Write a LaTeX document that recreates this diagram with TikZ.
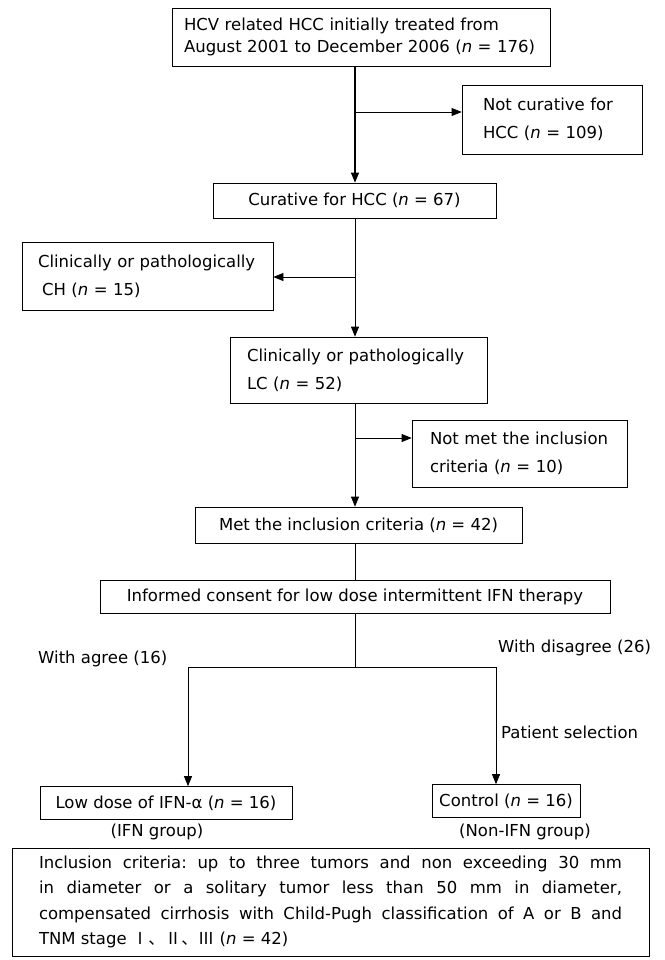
\documentclass[tikz,border=0pt]{standalone}
\usepackage{fontspec}
\setmainfont{DejaVu Sans}
\newfontfamily\cjkfont{Noto Sans CJK SC}
\usetikzlibrary{arrows.meta}
\newcommand{\nn}{\textit{n}}
\frenchspacing
\tikzset{
  box/.style={draw, line width=0.7pt, inner ysep=0pt, inner xsep=0pt, font=\fontsize{16.5}{28}\selectfont},
  lbl/.style={inner sep=0pt, font=\fontsize{16.5}{28}\selectfont},
  arr/.style={-{Triangle[length=10pt,width=8pt]}, line width=0.7pt},
  ln/.style={line width=0.7pt}
}
\begin{document}
\begin{tikzpicture}[x=1pt,y=-1pt]
\useasboundingbox (0,0) rectangle (664,960);
% boxes
\node[box, inner xsep=12pt, text width=354pt, minimum height=58pt, align=left,
      font=\fontsize{16.5}{22}\selectfont] (top) at (361,37)
  {HCV related HCC initially treated from\\August 2001 to December 2006 (\nn{} = 176)};
\node[box, inner xsep=21pt, text width=138pt, minimum height=69pt, align=left] (notcur) at (552,119.5)
  {Not curative for\\HCC (\nn{} = 109)};
\node[box, minimum width=283pt, minimum height=35pt] (cur) at (354.5,200.5)
  {Curative for HCC (\nn{} = 67)};
\node[box, inner xsep=16pt, text width=219pt, minimum height=68pt, align=left] (ch) at (147.5,276)
  {\mbox{Clinically or pathologically}\\\hspace*{4pt}CH (\nn{} = 15)};
\node[box, inner xsep=17pt, text width=223pt, minimum height=66pt, align=left] (lc) at (358.5,370)
  {\mbox{Clinically or pathologically}\\LC (\nn{} = 52)};
\node[box, inner xsep=18pt, text width=179pt, minimum height=67pt, align=left] (notmet) at (519.5,453.5)
  {\mbox{Not met the inclusion}\\criteria (\nn{} = 10)};
\node[box, minimum width=327pt, minimum height=36pt] (met) at (358.5,525)
  {Met the inclusion criteria (\nn{} = 42)};
\node[box, minimum width=510pt, minimum height=33pt] (inf) at (355,596.5)
  {Informed consent for low dose intermittent IFN therapy};
\node[box, minimum width=252pt, minimum height=33pt] (low) at (166,803)
  {Low dose of IFN-α (\nn{} = 16)};
\node[box, minimum width=148pt, minimum height=33pt] (ctl) at (506,801)
  {Control (\nn{} = 16)};
\node[lbl] (ifng) at (157,832) {(IFN group)};
\node[lbl] (nonifng) at (525,832) {(Non-IFN group)};
\node[box, inner xsep=27pt, text width=583pt, minimum height=108pt, align=justify,
      font=\fontsize{16.5}{25.5}\selectfont] (incl) at (330.5,902)
  {Inclusion criteria: up to three tumors and non exceeding 30 mm\linebreak
   in diameter or a solitary tumor less than 50 mm in diameter,\linebreak
   compensated cirrhosis with Child-Pugh classification of A or B and\linebreak
   TNM stage {\cjkfont Ⅰ、Ⅱ、Ⅲ} (\nn{} = 42)};
% labels
\node[lbl, anchor=west] (agree) at (38,659) {With agree (16)};
\node[lbl, anchor=west] (disagree) at (498,648) {With disagree (26)};
\node[lbl, anchor=west] (psel) at (501,732) {Patient selection};
% coordinates
\coordinate (b1) at (355,112);
\coordinate (b2) at (355,277);
\coordinate (b3) at (355,438);
\coordinate (j) at (355,667);
\coordinate (jl) at (188,667);
\coordinate (jr) at (496,667);
% connectors
\draw[arr, line width=1.1pt] (top.south -| b1) -- (cur.north -| b1);
\draw[arr] (b1) -- (b1 -| notcur.west);
\draw[arr] (cur.south -| b2) -- (lc.north -| b2);
\draw[arr] (b2) -- (b2 -| ch.east);
\draw[arr] (lc.south -| b3) -- (met.north -| b3);
\draw[arr] (b3) -- (b3 -| notmet.west);
\draw[ln] (met.south -| j) -- (inf.north -| j);
\draw[ln] (inf.south -| j) -- (j);
\draw[ln] (jl) -- (jr);
\draw[arr] (jl) -- (jl |- low.north);
\draw[arr] (jr) -- (jr |- ctl.north);
\end{tikzpicture}
\end{document}
